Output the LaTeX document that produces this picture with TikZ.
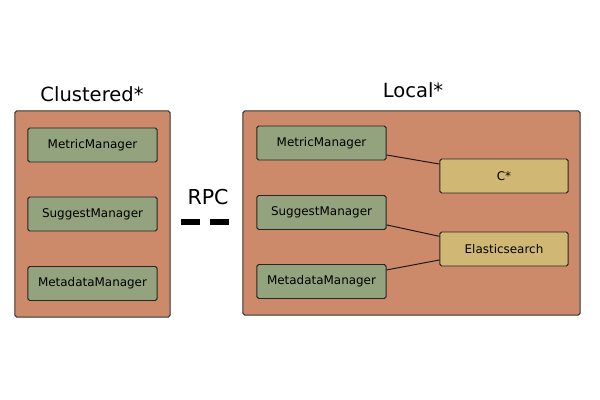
\documentclass[tikz,border=0pt]{standalone}
\usepackage{fontspec}
\setmainfont{DejaVu Sans}
\definecolor{hostfill}{RGB}{204,138,106}
\definecolor{mgrfill}{RGB}{147,163,126}
\definecolor{storefill}{RGB}{208,184,116}
\tikzset{hostbox/.style={draw=black!80,fill=hostfill,rounded corners=1.2pt,line width=0.7pt},
         mgrbox/.style={draw=black!85,fill=mgrfill,rounded corners=1.2pt,line width=0.7pt,
                        minimum width=3.225cm,minimum height=0.85cm,inner sep=0pt,
                        font=\fontsize{8.5}{10}\selectfont},
         storebox/.style={mgrbox,fill=storefill,minimum width=3.2cm},
         hosttitle/.style={font=\fontsize{13.9}{16}\selectfont},
         link/.style={line width=0.7pt,black!90}
}
\begin{document}
\begin{tikzpicture}[x=0.025cm,y=-0.025cm]
  \useasboundingbox (0,0) rectangle (600,400);
  % the two hosts
  \node[hostbox,minimum width=3.875cm,minimum height=5.15cm] (clustered) at (92.5,214) {};
  \node[hostbox,minimum width=8.425cm,minimum height=5.1cm] (local) at (411.5,213) {};
  \node[hosttitle] (clusteredtitle) at (92,94) {Clustered*};
  \node[hosttitle] (localtitle) at (413,90) {Local*};
  % managers, clustered side
  \node[mgrbox] (cmetric) at (92.5,145) {MetricManager};
  \node[mgrbox] (csuggest) at (92.5,214) {SuggestManager};
  \node[mgrbox] (cmetadata) at (92.5,283.5) {MetadataManager};
  % managers, local side
  \node[mgrbox] (lmetric) at (321.5,143) {MetricManager};
  \node[mgrbox] (lsuggest) at (321.5,212.5) {SuggestManager};
  \node[mgrbox] (lmetadata) at (321.5,281.5) {MetadataManager};
  \node[storebox] (cstar) at (504,176) {C*};
  \node[storebox] (elastic) at (504,249) {Elasticsearch};
  \draw[link] ([yshift=-8.5pt]lmetric.east) -- ([yshift=8.5pt]cstar.west);
  \draw[link] ([yshift=-8.8pt]lsuggest.east) -- ([yshift=9pt]elastic.west);
  \draw[link] ([yshift=8.2pt]lmetadata.east) -- ([yshift=-7.8pt]elastic.west);
  % rpc
  \node[hosttitle,font=\fontsize{14.6}{17}\selectfont] (rpc) at (208,197) {RPC};
  \coordinate (rpcleft) at (181,222);
  \coordinate (rpcright) at (230,222);
  \draw[line width=4.25pt,dash pattern=on 13.5pt off 7pt] (rpcleft) -- (rpcright);
\end{tikzpicture}
\end{document}
